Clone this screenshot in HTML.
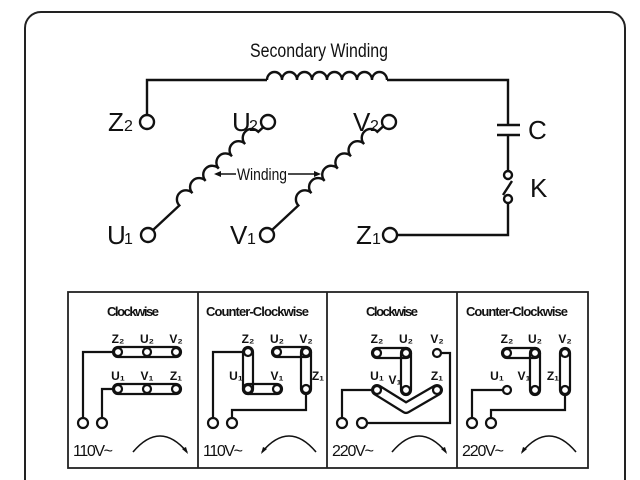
<!DOCTYPE html>
<html><head><meta charset="utf-8"><style>
html,body{margin:0;padding:0;background:#fff;width:640px;height:480px;overflow:hidden}
text{font-family:"Liberation Sans Narrow","Liberation Sans",sans-serif;fill:#111}
</style></head><body>
<svg width="640" height="480" viewBox="0 0 640 480" xmlns="http://www.w3.org/2000/svg">
<path d="M25 482 V28 a16 16 0 0 1 16 -16 H609 a16 16 0 0 1 16 16 V482" fill="none" stroke="#222" stroke-width="2"/>
<g fill="none" stroke="#111" stroke-width="2.4">
<path d="M147 115 V80 H267"/>
<path d="M267 80 a7.5 8 0 0 1 15 0 a7.5 8 0 0 1 15 0 a7.5 8 0 0 1 15 0 a7.5 8 0 0 1 15 0 a7.5 8 0 0 1 15 0 a7.5 8 0 0 1 15 0 a7.5 8 0 0 1 15 0 a7.5 8 0 0 1 15 0"/>
<path d="M387 80 H508 V125 M497 125 H520 M497 135 H520 M508 135 V170 M508 204 V235 H397 M512 181 L503 195"/>
<circle cx="508" cy="175" r="4"/><circle cx="508" cy="199" r="4"/>
<circle cx="147" cy="122" r="7"/><circle cx="268" cy="122" r="7"/><circle cx="389" cy="122" r="7"/>
<circle cx="148" cy="235" r="7"/><circle cx="267" cy="235" r="7"/><circle cx="390" cy="235" r="7"/>
<g transform="translate(153,230) rotate(-43)">
<path d="M0 0 H36 a9 9 0 0 1 18 0 a9 9 0 0 1 18 0 a9 9 0 0 1 18 0 a9 9 0 0 1 18 0 a9 9 0 0 1 18 0 a9 9 0 0 1 18 0 H152"/>
</g>
<g transform="translate(272,230) rotate(-43)">
<path d="M0 0 H36 a9 9 0 0 1 18 0 a9 9 0 0 1 18 0 a9 9 0 0 1 18 0 a9 9 0 0 1 18 0 a9 9 0 0 1 18 0 a9 9 0 0 1 18 0 H152"/>
</g>
<path d="M216 174 H236 M288 174 H318" stroke-width="1.4"/>
</g>
<path d="M214 174 l7 -3 v6 z M321 174 l-7 -3 v6 z" fill="#111"/>
<text x="250" y="57" font-size="19" textLength="138" lengthAdjust="spacingAndGlyphs">Secondary Winding</text>
<text x="237" y="180" font-size="17" textLength="50" lengthAdjust="spacingAndGlyphs">Winding</text>
<g font-size="26" lengthAdjust="spacingAndGlyphs">
<text x="108" y="131" textLength="15">Z</text><text x="124" y="131" font-size="16">2</text>
<text x="232" y="131" textLength="16">U</text><text x="249" y="131" font-size="16">2</text>
<text x="353" y="131" textLength="16">V</text><text x="370" y="131" font-size="16">2</text>
<text x="107" y="244" textLength="16">U</text><text x="124" y="244" font-size="16">1</text>
<text x="230" y="244" textLength="16">V</text><text x="247" y="244" font-size="16">1</text>
<text x="356" y="244" textLength="15">Z</text><text x="372" y="244" font-size="16">1</text>
<text x="528" y="139" textLength="15">C</text>
<text x="530" y="197" textLength="15">K</text>
</g>

<g fill="none" stroke="#222" stroke-width="1.8">
<rect x="68" y="292" width="520" height="176"/>
<path d="M198 292 V468 M327 292 V468 M457 292 V468"/>
</g>
<g font-size="13" font-weight="bold" lengthAdjust="spacingAndGlyphs">
<text x="107" y="316" textLength="52">Clockwise</text><text x="206" y="316" textLength="103">Counter-Clockwise</text>
<text x="366" y="316" textLength="52">Clockwise</text><text x="466" y="316" textLength="102">Counter-Clockwise</text>
</g>
<g font-size="12" font-weight="bold" text-anchor="middle">
<text x="118" y="343">Z₂</text><text x="147" y="343">U₂</text><text x="176" y="343">V₂</text>
<text x="118" y="380">U₁</text><text x="147" y="380">V₁</text><text x="176" y="380">Z₁</text>
<text x="248" y="343">Z₂</text><text x="277" y="343">U₂</text><text x="306" y="343">V₂</text>
<text x="236" y="380">U₁</text><text x="277" y="380">V₁</text><text x="318" y="380">Z₁</text>
<text x="377" y="343">Z₂</text><text x="406" y="343">U₂</text><text x="437" y="343">V₂</text>
<text x="377" y="380">U₁</text><text x="395" y="384">V₁</text><text x="437" y="380">Z₁</text>
<text x="507" y="343">Z₂</text><text x="535" y="343">U₂</text><text x="565" y="343">V₂</text>
<text x="497" y="380">U₁</text><text x="524" y="380">V₁</text><text x="553" y="380">Z₁</text>
</g>
<g font-size="16" lengthAdjust="spacingAndGlyphs">
<text x="73" y="456" textLength="40">110V~</text><text x="203" y="456" textLength="40">110V~</text>
<text x="332" y="456" textLength="42">220V~</text><text x="462" y="456" textLength="42">220V~</text>
</g>
<g fill="none" stroke="#111" stroke-width="2.2">
<rect x="113" y="347" width="68" height="10" rx="5"/>
<rect x="113" y="384" width="68" height="10" rx="5"/>
<rect x="243" y="347" width="10" height="47" rx="5"/>
<rect x="243" y="384" width="39" height="10" rx="5"/>
<rect x="272" y="347" width="39" height="10" rx="5"/>
<rect x="301" y="347" width="10" height="47" rx="5"/>
<rect x="372" y="348" width="39" height="10" rx="5"/>
<rect x="401" y="348" width="10" height="47" rx="5"/>
<path d="M377 390 L406 408 L437 390" stroke-width="12" stroke-linejoin="round" stroke-linecap="round"/>
<rect x="502" y="348" width="38" height="10" rx="5"/>
<rect x="530" y="348" width="10" height="47" rx="5"/>
<rect x="560" y="348" width="10" height="47" rx="5"/>
</g>
<path d="M377 390 L406 408 L437 390" fill="none" stroke="#fff" stroke-width="7.5" stroke-linejoin="round" stroke-linecap="round"/>
<g fill="#fff" stroke="#111" stroke-width="2.2">
<circle cx="118" cy="352" r="4"/><circle cx="147" cy="352" r="4"/><circle cx="176" cy="352" r="4"/>
<circle cx="118" cy="389" r="4"/><circle cx="147" cy="389" r="4"/><circle cx="176" cy="389" r="4"/>
<circle cx="248" cy="352" r="4"/><circle cx="277" cy="352" r="4"/><circle cx="306" cy="352" r="4"/>
<circle cx="248" cy="389" r="4"/><circle cx="277" cy="389" r="4"/><circle cx="306" cy="389" r="4"/>
<circle cx="377" cy="353" r="4"/><circle cx="406" cy="353" r="4"/><circle cx="437" cy="353" r="4"/>
<circle cx="377" cy="390" r="4"/><circle cx="406" cy="390" r="4"/><circle cx="437" cy="390" r="4"/>
<circle cx="507" cy="353" r="4"/><circle cx="535" cy="353" r="4"/><circle cx="565" cy="353" r="4"/>
<circle cx="507" cy="390" r="4"/><circle cx="535" cy="390" r="4"/><circle cx="565" cy="390" r="4"/>
</g>
<g fill="none" stroke="#111" stroke-width="2.2">
<path d="M114 352 H83 V418 M114 389 H102 V418"/>
<path d="M244 352 H213 V418 M306 393 V410 H232 V418"/>
<path d="M373 390 H342 V418 M441 353 H450 V423 H367"/>
<path d="M503 390 H472 V418 M565 394 V410 H491 V418"/>
<circle cx="83" cy="423" r="5"/><circle cx="102" cy="423" r="5"/>
<circle cx="213" cy="423" r="5"/><circle cx="232" cy="423" r="5"/>
<circle cx="342" cy="423" r="5"/><circle cx="362" cy="423" r="5"/>
<circle cx="472" cy="423" r="5"/><circle cx="491" cy="423" r="5"/>
<path d="M133 452 Q160 420 187 452" stroke-width="1.6"/>
<path d="M262 452 Q289 420 316 452" stroke-width="1.6"/>
<path d="M392 452 Q419 420 446 452" stroke-width="1.6"/>
<path d="M522 452 Q549 420 576 452" stroke-width="1.6"/>
</g>
<g fill="#111">
<path d="M188 454 l-6 -5 l4 -2 z"/>
<path d="M261 454 l6 -5 l-4 -2 z"/>
<path d="M447 454 l-6 -5 l4 -2 z"/>
<path d="M521 454 l6 -5 l-4 -2 z"/>
</g>
</svg>
</body></html>
